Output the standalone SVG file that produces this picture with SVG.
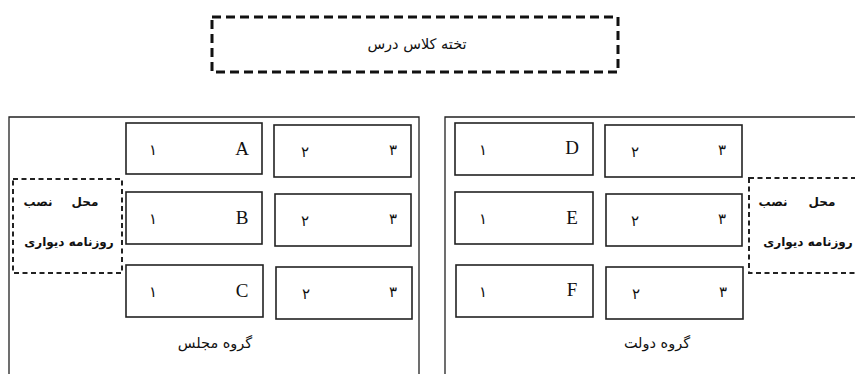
<svg xmlns="http://www.w3.org/2000/svg" width="855" height="374" viewBox="0 0 855 374">
  <style>
    .frame { fill: none; stroke: #222; stroke-width: 1.3; }
    .seat { fill: #fff; stroke: #222; stroke-width: 1.6; }
    .board { fill: none; stroke: #111; stroke-width: 3; stroke-dasharray: 9 5; }
    .wall { fill: none; stroke: #222; stroke-width: 2; stroke-dasharray: 5 3.5; }
    .lat { font-family: "Liberation Serif", "DejaVu Serif", serif; font-size: 19px; fill: #111; text-anchor: middle; }
    .num { font-family: "DejaVu Sans", "Noto Sans", sans-serif; font-size: 15px; fill: #111; text-anchor: middle; }
    .fa { font-family: "DejaVu Sans", "Noto Sans", sans-serif; font-size: 14.5px; fill: #111; text-anchor: middle; }
    .fab { font-family: "DejaVu Sans", "Noto Sans", sans-serif; font-size: 12px; font-weight: bold; fill: #111; text-anchor: middle; }
  </style>

  <!-- classroom board -->
  <g id="board">
    <rect class="board" x="212" y="17" width="406" height="55"/>
    <text class="fa" x="417" y="49">تخته کلاس درس</text>
  </g>

  <!-- group frames (open at the bottom/right edge) -->
  <g id="group-majlis">
    <path class="frame" d="M9,380 V117 H419 V380"/>
    <text class="fa" x="215" y="348">گروه مجلس</text>
  </g>
  <g id="group-dolat">
    <path class="frame" d="M445,380 V117 H860"/>
    <text class="fa" x="657" y="348">گروه دولت</text>
  </g>

  <!-- wall newspaper spots -->
  <g id="wall-left">
    <rect class="wall" x="13" y="179" width="109" height="94"/>
    <text class="fab" x="85" y="206">محل</text>
    <text class="fab" x="38" y="206">نصب</text>
    <text class="fab" x="69" y="246">روزنامه دیواری</text>
  </g>
  <g id="wall-right">
    <rect class="wall" x="749" y="178" width="120" height="95"/>
    <text class="fab" x="822" y="206">محل</text>
    <text class="fab" x="773" y="206">نصب</text>
    <text class="fab" x="808" y="246">روزنامه دیواری</text>
  </g>

  <!-- seats, group majlis -->
  <g id="seat-A">
    <rect class="seat" x="126" y="123" width="136" height="51"/>
    <text class="lat" x="242" y="155">A</text>
    <text class="num" x="153" y="155">١</text>
  </g>
  <g id="seat-A2">
    <rect class="seat" x="274" y="125" width="137" height="52"/>
    <text class="num" x="305" y="157">٢</text>
    <text class="num" x="393" y="155">٣</text>
  </g>
  <g id="seat-B">
    <rect class="seat" x="126" y="192" width="136" height="52"/>
    <text class="lat" x="242" y="224">B</text>
    <text class="num" x="153" y="224">١</text>
  </g>
  <g id="seat-B2">
    <rect class="seat" x="275" y="194" width="136" height="52"/>
    <text class="num" x="305" y="226">٢</text>
    <text class="num" x="393" y="224">٣</text>
  </g>
  <g id="seat-C">
    <rect class="seat" x="126" y="265" width="137" height="52"/>
    <text class="lat" x="242" y="297">C</text>
    <text class="num" x="153" y="297">١</text>
  </g>
  <g id="seat-C2">
    <rect class="seat" x="276" y="267" width="136" height="52"/>
    <text class="num" x="306" y="299">٢</text>
    <text class="num" x="393" y="297">٣</text>
  </g>

  <!-- seats, group dolat -->
  <g id="seat-D">
    <rect class="seat" x="455" y="123" width="138" height="52"/>
    <text class="lat" x="572" y="154">D</text>
    <text class="num" x="483" y="155">١</text>
  </g>
  <g id="seat-D2">
    <rect class="seat" x="605" y="125" width="137" height="52"/>
    <text class="num" x="635" y="157">٢</text>
    <text class="num" x="722" y="155">٣</text>
  </g>
  <g id="seat-E">
    <rect class="seat" x="455" y="192" width="138" height="52"/>
    <text class="lat" x="572" y="224">E</text>
    <text class="num" x="483" y="224">١</text>
  </g>
  <g id="seat-E2">
    <rect class="seat" x="606" y="194" width="136" height="52"/>
    <text class="num" x="635" y="226">٢</text>
    <text class="num" x="722" y="224">٣</text>
  </g>
  <g id="seat-F">
    <rect class="seat" x="456" y="265" width="137" height="52"/>
    <text class="lat" x="572" y="296">F</text>
    <text class="num" x="483" y="297">١</text>
  </g>
  <g id="seat-F2">
    <rect class="seat" x="606" y="267" width="137" height="52"/>
    <text class="num" x="636" y="299">٢</text>
    <text class="num" x="723" y="297">٣</text>
  </g>

  <g id="connectors"/>
</svg>
